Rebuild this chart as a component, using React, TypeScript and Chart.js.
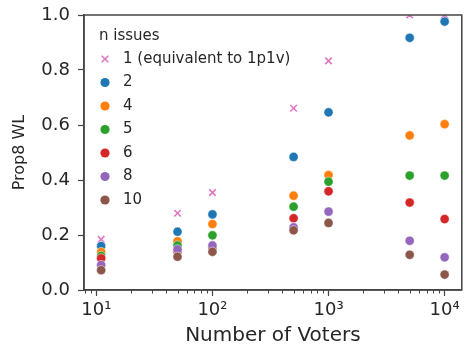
import React, { useEffect, useRef } from "react";
import { Chart, registerables } from "chart.js";

Chart.register(...registerables);

// ---- data ----
const voters = [11, 50, 100, 500, 1000, 5000, 10000];
const seriesLabels = ["1 (equivalent to 1p1v)", "2", "4", "5", "6", "8", "10"];
const legendTitle = "n issues";
const issues1 = [0.184, 0.279, 0.354, 0.661, 0.833, 1.0, 1.0];
const issues2 = [0.16, 0.212, 0.275, 0.484, 0.646, 0.917, 0.976];
const issues4 = [0.138, 0.177, 0.24, 0.343, 0.418, 0.562, 0.603];
const issues5 = [0.124, 0.162, 0.199, 0.303, 0.394, 0.416, 0.416];
const issues6 = [0.115, 0.14, 0.155, 0.261, 0.359, 0.318, 0.258];
const issues8 = [0.091, 0.148, 0.162, 0.228, 0.285, 0.179, 0.119];
const issues10 = [0.072, 0.121, 0.139, 0.217, 0.244, 0.128, 0.056];
const seriesValues = [issues1, issues2, issues4, issues5, issues6, issues8, issues10];
const xTickValues = [10, 100, 1000, 10000];
const xTickLabels = ["10\u00B9", "10\u00B2", "10\u00B3", "10\u2074"];
const xTitle = "Number of Voters";
const yTitle = "Prop8 WL";

// ---- style ----
const colors = ["#e377c2", "#1f77b4", "#ff7f0e", "#2ca02c", "#d62728", "#9467bd", "#8c564b"];
const FONT = "DejaVu Sans";
const TEXT = "#262626";
const SPINE = "#444444";

const logMin = Math.log10(Math.min(...voters));
const logMax = Math.log10(Math.max(...voters));
const margin = (logMax - logMin) * 0.05;
const xMin = Math.pow(10, logMin - margin);
const xMax = Math.pow(10, logMax + margin);

function drawMarker(ctx: CanvasRenderingContext2D, i: number, x: number, y: number) {
  ctx.save();
  if (i === 0) {
    const r = 3.3;
    ctx.strokeStyle = colors[0];
    ctx.lineWidth = 1.6;
    ctx.beginPath();
    ctx.moveTo(x - r, y - r);
    ctx.lineTo(x + r, y + r);
    ctx.moveTo(x - r, y + r);
    ctx.lineTo(x + r, y - r);
    ctx.stroke();
  } else {
    ctx.fillStyle = colors[i];
    ctx.beginPath();
    ctx.arc(x, y, 4.6, 0, Math.PI * 2);
    ctx.fill();
  }
  ctx.restore();
}

const overlayPlugin = {
  id: "overlay",
  afterDraw(chart: any) {
    const ctx: CanvasRenderingContext2D = chart.ctx;
    const area = chart.chartArea;
    const xs = chart.scales.x;
    ctx.save();
    // minor ticks on log x axis
    ctx.strokeStyle = SPINE;
    ctx.lineWidth = 1;
    for (let d = 0; d <= 4; d++) {
      for (let k = 2; k <= 9; k++) {
        const v = k * Math.pow(10, d);
        if (v < xs.min || v > xs.max) continue;
        const px = Math.round(xs.getPixelForValue(v)) + 0.5;
        ctx.beginPath();
        ctx.moveTo(px, area.bottom);
        ctx.lineTo(px, area.bottom + 3.5);
        ctx.stroke();
      }
    }
    // frame
    ctx.strokeStyle = SPINE;
    ctx.lineWidth = 1.5;
    ctx.strokeRect(area.left, area.top, area.right - area.left, area.bottom - area.top);
    // legend
    ctx.fillStyle = TEXT;
    ctx.font = `15px "${FONT}"`;
    ctx.textBaseline = "middle";
    ctx.textAlign = "left";
    ctx.fillText(legendTitle, area.left + 15, area.top + 21);
    seriesLabels.forEach((label, i) => {
      const y = area.top + 44 + i * 23.5;
      drawMarker(ctx, i, area.left + 21, y);
      ctx.fillStyle = TEXT;
      ctx.fillText(label, area.left + 39, y);
    });
    ctx.restore();
  },
};

export default function App() {
  const ref = useRef<HTMLCanvasElement | null>(null);
  useEffect(() => {
    if (!ref.current) return;
    const datasets = seriesValues.map((vals, i) => ({
      label: seriesLabels[i],
      data: voters.map((v, j) => ({ x: v, y: vals[j] })),
      pointStyle: i === 0 ? "crossRot" : "circle",
      pointRadius: 4.6,
      pointHoverRadius: 4.6,
      backgroundColor: colors[i],
      borderColor: i === 0 ? colors[i] : "rgba(255,255,255,0.8)",
      borderWidth: i === 0 ? 1.6 : 0.6,
      showLine: false,
      order: seriesValues.length - i,
      clip: 0,
    }));
    const chart = new Chart(ref.current, {
      type: "scatter",
      data: { datasets },
      plugins: [overlayPlugin],
      options: {
        animation: false,
        responsive: false,
        events: [],
        layout: { padding: { top: 15, right: 5, left: 0, bottom: 0 } },
        plugins: { legend: { display: false }, tooltip: { enabled: false } },
        scales: {
          x: {
            type: "logarithmic",
            min: xMin,
            max: xMax,
            afterBuildTicks: (s: any) => {
              s.ticks = xTickValues.map((v) => ({ value: v, major: true }));
            },
            afterFit: (s: any) => {
              s.height = 61;
              s.paddingLeft = 0;
              s.paddingRight = 0;
            },
            ticks: {
              autoSkip: false,
              maxRotation: 0,
              padding: 4,
              color: TEXT,
              font: { family: FONT, size: 18 },
              callback: (_v: any, idx: number) => xTickLabels[idx],
            },
            grid: {
              drawOnChartArea: false,
              drawTicks: true,
              tickLength: 6,
              tickColor: SPINE,
              tickWidth: 1.2,
            },
            border: { display: true, color: SPINE, width: 1.5 },
            title: {
              display: true,
              text: xTitle,
              color: TEXT,
              font: { family: FONT, size: 20 },
              padding: { top: 0, bottom: 3 },
            },
          },
          y: {
            type: "linear",
            min: 0,
            max: 1,
            afterFit: (s: any) => {
              s.width = 84;
              s.paddingTop = 0;
              s.paddingBottom = 0;
            },
            ticks: {
              stepSize: 0.2,
              padding: 8,
              color: TEXT,
              font: { family: FONT, size: 18 },
              callback: (v: any) => Number(v).toFixed(1),
            },
            grid: {
              drawOnChartArea: false,
              drawTicks: true,
              tickLength: 6,
              tickColor: SPINE,
              tickWidth: 1.2,
            },
            border: { display: true, color: SPINE, width: 1.5 },
            title: {
              display: true,
              text: yTitle,
              color: TEXT,
              font: { family: FONT, size: 16 },
              padding: { top: 10, bottom: 0 },
            },
          },
        },
      },
    } as any);
    return () => chart.destroy();
  }, []);
  return (
    <div style={{ position: "absolute", left: 0, top: 0, width: 468, height: 351, background: "#fff" }}>
      <canvas ref={ref} width={468} height={351} style={{ width: 468, height: 351, display: "block" }} />
    </div>
  );
}
